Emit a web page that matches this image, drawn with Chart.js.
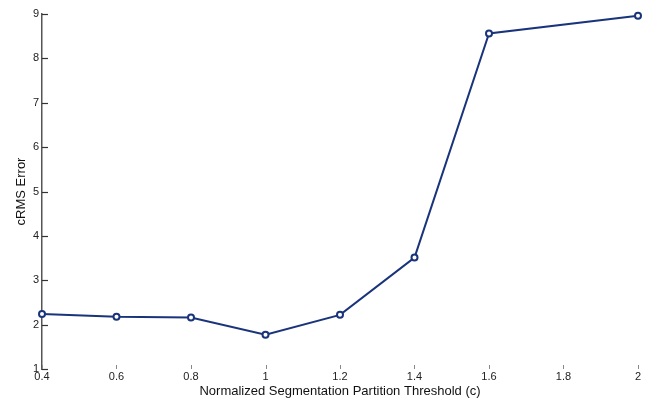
<!DOCTYPE html>
<html>
<head>
<meta charset="utf-8">
<script src="https://cdn.jsdelivr.net/npm/chart.js@4"></script>
<style>
  html, body { margin: 0; padding: 0; background: #fff; }
  #wrap { width: 652px; height: 401px; }
</style>
</head>
<body>
<div id="wrap"><canvas id="errChart" width="652" height="401"></canvas></div>
<script>
const thresholds = [0.4, 0.6, 0.8, 1.0, 1.2, 1.4, 1.6, 2.0];
const crmsError = [2.24, 2.18, 2.16, 1.77, 2.22, 3.51, 8.56, 8.96];
const xTicks = [0.4, 0.6, 0.8, 1, 1.2, 1.4, 1.6, 1.8, 2];
const yTicks = [1, 2, 3, 4, 5, 6, 7, 8, 9];

const navy = '#1a347c';
const font = 'Liberation Sans, Arial, sans-serif';

// inward tick marks like the old matlab figure
const innerTicks = {
  id: 'innerTicks',
  afterDraw(chart) {
    const { ctx, scales: { x, y }, chartArea } = chart;
    ctx.save();
    ctx.strokeStyle = '#333';
    ctx.lineWidth = 1.2;
    yTicks.forEach(v => {
      const py = Math.round(y.getPixelForValue(v)) + 0.5;
      ctx.beginPath();
      ctx.moveTo(chartArea.left, py);
      ctx.lineTo(chartArea.left + 6, py);
      ctx.stroke();
    });
    ctx.strokeStyle = '#888';
    ctx.lineWidth = 1;
    xTicks.forEach(v => {
      const px = Math.round(x.getPixelForValue(v)) + 0.5;
      ctx.beginPath();
      ctx.moveTo(px, chartArea.bottom);
      ctx.lineTo(px, chartArea.bottom - 4);
      ctx.stroke();
    });
    ctx.restore();
  }
};

new Chart(document.getElementById('errChart').getContext('2d'), {
  type: 'scatter',
  data: {
    datasets: [{
      data: thresholds.map((t, i) => ({ x: t, y: crmsError[i] })),
      showLine: true,
      clip: false,
      borderColor: navy,
      backgroundColor: '#ffffff',
      borderWidth: 2,
      pointRadius: 3,
      pointBorderWidth: 2,
      pointBorderColor: navy,
      pointBackgroundColor: '#ffffff',
      tension: 0
    }]
  },
  options: {
    responsive: false,
    animation: false,
    layout: { padding: { top: 14, right: 14, left: 0, bottom: 0 } },
    plugins: { legend: { display: false }, tooltip: { enabled: false } },
    scales: {
      x: {
        type: 'linear',
        min: 0.4,
        max: 2,
        afterBuildTicks: s => { s.ticks = xTicks.map(v => ({ value: v })); },
        afterFit: s => { s.height = 32; },
        grid: { display: false, drawTicks: false },
        border: { display: false },
        ticks: {
          padding: 1,
          color: '#222',
          font: { family: font, size: 11 },
          callback: v => String(v)
        },
        title: {
          display: true,
          text: 'Normalized Segmentation Partition Threshold (c)',
          color: '#111',
          padding: { top: 0, bottom: 2 },
          font: { family: font, size: 13 }
        }
      },
      y: {
        min: 1,
        max: 9,
        afterBuildTicks: s => { s.ticks = yTicks.map(v => ({ value: v })); },
        afterFit: s => { s.width = 42; },
        grid: { display: false, drawTicks: false },
        border: { display: true, color: '#555', width: 1.5 },
        ticks: {
          padding: 3,
          color: '#222',
          font: { family: font, size: 11 },
          callback: v => String(v)
        },
        title: {
          display: true,
          text: 'cRMS Error',
          color: '#111',
          padding: { top: 14, bottom: 0 },
          font: { family: font, size: 13 }
        }
      }
    }
  },
  plugins: [innerTicks]
});
</script>
</body>
</html>
